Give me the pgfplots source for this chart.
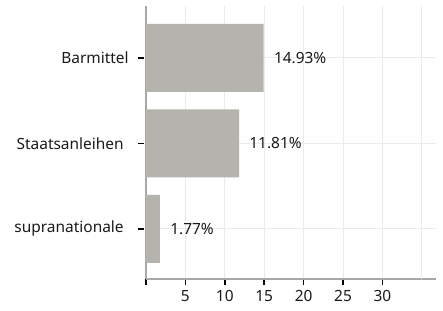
\documentclass[border=0pt]{standalone}
\usepackage{fontspec}
\setmainfont{Noto Sans}
\usepackage{pgfplots}
\pgfplotsset{compat=1.18}
\definecolor{barc}{HTML}{B4B3AE}
\definecolor{gridc}{HTML}{EBEBEB}
\definecolor{axc}{HTML}{A8A8A8}
\definecolor{txt}{HTML}{1A1A1A}
\begin{document}
\fontsize{15.5}{18}\selectfont
\begin{tikzpicture}
\begin{axis}[
  scale only axis, width=290bp, height=273bp,
  xbar, bar width=68bp,
  xmin=0, xmax=36.8, ymin=-0.585, ymax=2.608,
  ytick={0,1,2}, yticklabels={supranationale\rule{5bp}{0pt},Staatsanleihen\rule{5bp}{0pt},Barmittel},
  xtick={0,5,...,30}, xticklabels={,5,10,15,20,25,30},
  extra x ticks={35}, extra x tick labels={},
  extra x tick style={major tick length=0pt, grid=major},
  axis x line*=bottom, axis y line*=left,
  axis line style={axc, line width=1.2bp, -},
  tick style={black, line width=1.6bp},
  major tick length=6bp, tick align=outside,
  y tick style={xshift=-2bp},
  xmajorgrids, ymajorgrids,
  grid style={gridc, line width=1bp},
  yticklabel style={xshift=-6bp, text=txt},
  xticklabel style={text=txt},
  /pgf/number format/assume math mode=true,
  point meta=explicit symbolic,
  nodes near coords,
  nodes near coords align={anchor=west},
  every node near coord/.append style={xshift=5bp, text=txt},
]
\addplot[fill=barc, draw=none] coordinates {
  (1.77,0) [1.77\%]
  (11.81,1) [11.81\%]
  (14.93,2) [14.93\%]
};
\end{axis}
\path (current axis.north east) ++(7bp,6bp);
\path (current axis.south west) ++(-146bp,-32bp);
\end{tikzpicture}
\end{document}
